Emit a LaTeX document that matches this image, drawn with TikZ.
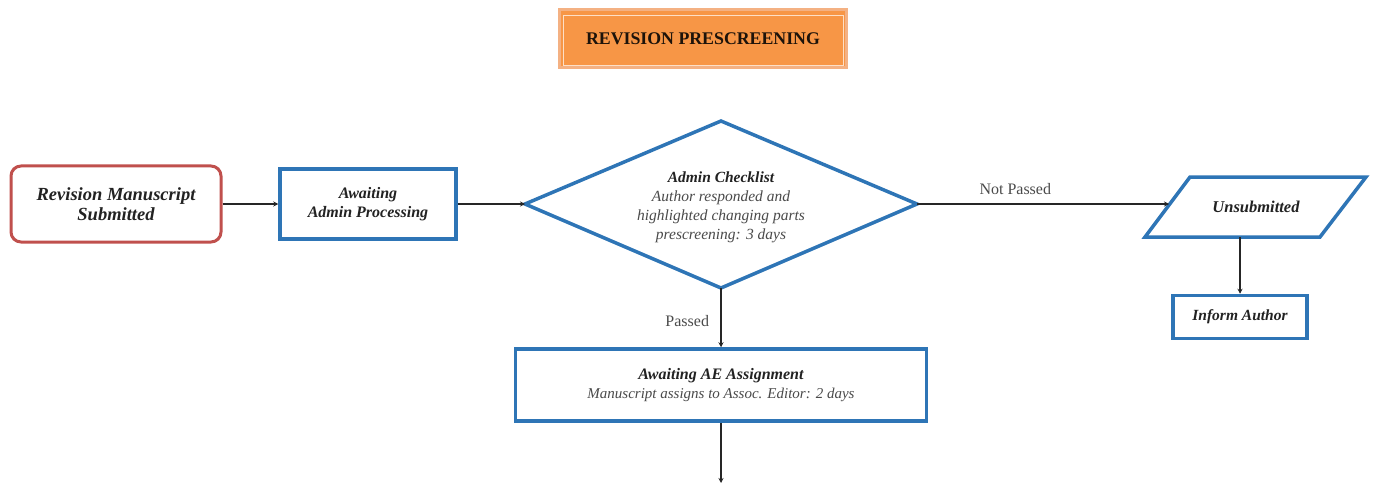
\documentclass[tikz,border=0pt]{standalone}
\usepackage{fontspec}
\setmainfont{Liberation Serif}
\usetikzlibrary{shapes.geometric,arrows.meta}
\definecolor{boxblue}{HTML}{2E75B6}
\definecolor{glowblue}{HTML}{BDD7EE}
\definecolor{startred}{HTML}{C0504D}
\definecolor{titleorange}{HTML}{F79646}
\definecolor{titleedge}{HTML}{F4B183}
\definecolor{txtdark}{HTML}{222222}
\definecolor{txtgray}{HTML}{4A4A4A}
\tikzset{
  x=1pt,y=-1pt,
  bluebox/.style={draw=boxblue,line width=3.5pt,fill=white,rectangle,inner sep=0pt,
    align=center,text=txtdark,font=\bfseries\itshape\fontsize{16}{19}\selectfont},
  conn/.style={draw=black!85,line width=1.3pt,-{Stealth[length=5pt,width=5pt]}},
  lbl/.style={font=\fontsize{16}{18}\selectfont,text=txtgray},
}
\begin{document}
\begin{tikzpicture}
\useasboundingbox (0,0) rectangle (1379,484);
% title
\node[draw=titleedge,line width=3pt,fill=titleorange,minimum width=287pt,minimum height=58pt,
  font=\bfseries\fontsize{17.8}{20}\selectfont,text=black!85!brown] (title) at (703,39) {REVISION PRESCREENING};
\draw[white!70!titleorange,line width=0.8pt] (563,15) rectangle (843,65);
% start
\node[draw=startred,line width=3pt,rounded corners=10pt,fill=white,minimum width=210pt,minimum height=76pt,
  align=center,text=txtdark,font=\bfseries\itshape\fontsize{18.5}{20}\selectfont] (start) at (116,204)
  {Revision Manuscript\\Submitted};
% awaiting admin
\node[bluebox,minimum width=176pt,minimum height=70pt] (admin) at (368,204) {Awaiting\\Admin Processing};
% diamond
\coordinate (dl) at (525,204);
\coordinate (dt) at (721,121);
\coordinate (dr) at (917,204);
\coordinate (db) at (721,288);
\draw[draw=boxblue,line width=3.5pt,fill=white,line join=miter] (dl) -- (dt) -- (dr) -- (db) -- cycle;
\node[align=center,text=txtgray,font=\itshape\fontsize{15.5}{19}\selectfont] (check) at (721,207)
  {{\bfseries\color{txtdark}Admin Checklist}\\Author responded and\\highlighted changing parts\\prescreening: 3 days};
% parallelogram
\coordinate (pa) at (1190,177);
\coordinate (pb) at (1366,177);
\coordinate (pc) at (1320,237);
\coordinate (pd) at (1145,237);
\draw[draw=boxblue,line width=3.5pt,fill=white,line join=miter] (pa) -- (pb) -- (pc) -- (pd) -- cycle;
\node[text=txtdark,font=\bfseries\itshape\fontsize{16.5}{19}\selectfont] (unsub) at (1256,207) {Unsubmitted};
\coordinate (unsubL) at (1169,204);
\coordinate (unsubB) at (1240,237);
% inform author
\node[bluebox,minimum width=134pt,minimum height=43pt,font=\bfseries\itshape\fontsize{15.5}{19}\selectfont] (inform) at (1240,317) {Inform Author};
% AE
\node[bluebox,minimum width=411pt,minimum height=72pt] (ae) at (721,385)
  {Awaiting AE Assignment\\{\mdseries\color{txtgray}\fontsize{15}{19}\selectfont Manuscript assigns to Assoc. Editor: 2 days}};
\coordinate (endpt) at (721,483);
% connectors
\draw[conn] (start.east) -- (admin.west);
\draw[conn] (admin.east) -- (dl);
\draw[conn] (dr) -- node[lbl,above=5pt,pos=0.39]{Not Passed} (unsubL);
\draw[conn] (unsubB) -- (inform.north);
\draw[conn] (db) -- node[lbl,left=8pt,pos=0.55]{Passed} (ae.north);
\draw[conn] (ae.south) -- (endpt);
\end{tikzpicture}
\end{document}
